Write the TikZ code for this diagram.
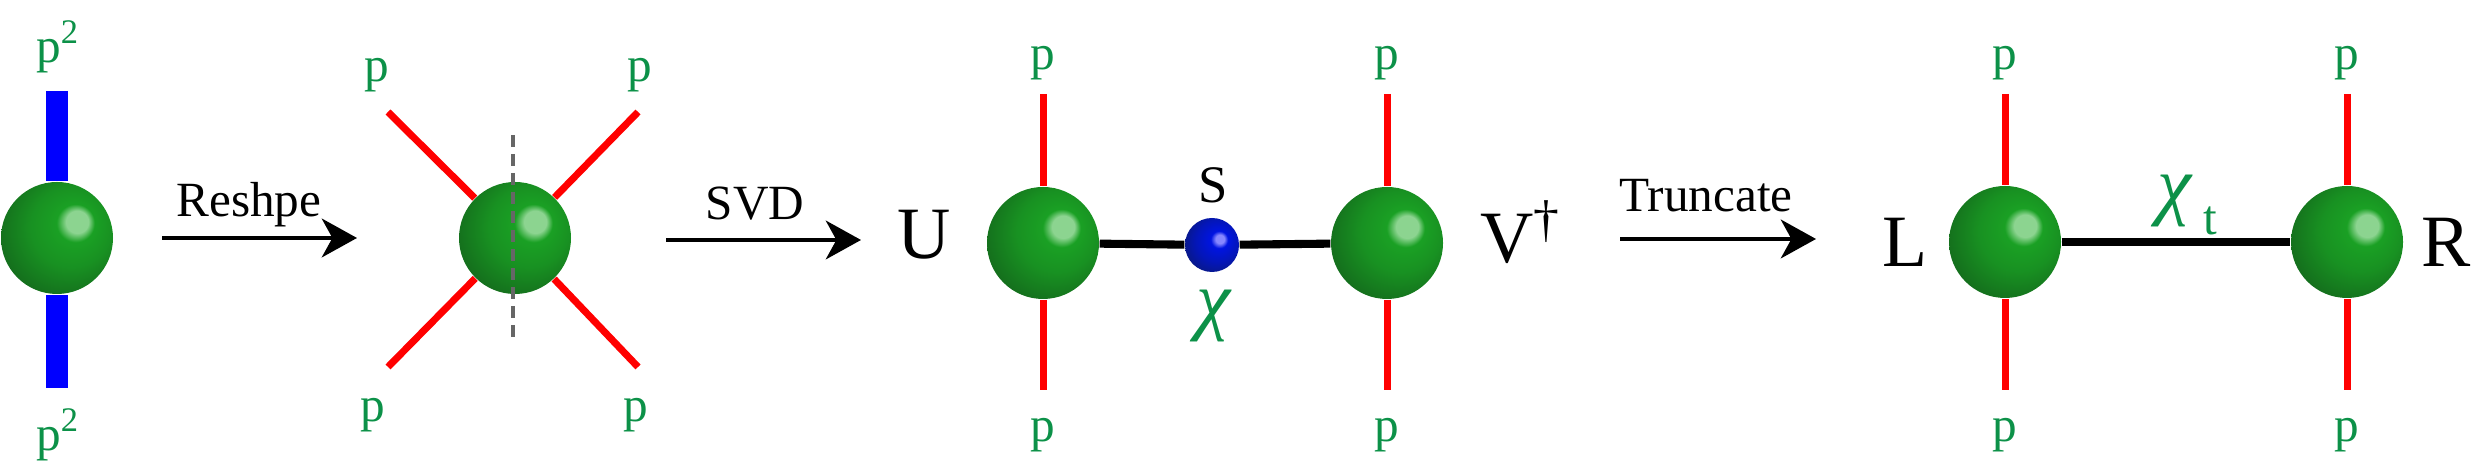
\documentclass[tikz,border=0pt]{standalone}
\usepackage{fontspec}
\setmainfont{Liberation Serif}
\usetikzlibrary{arrows.meta}

\definecolor{pgreen}{RGB}{12,145,72}
\definecolor{ballhi}{RGB}{140,212,144}
\definecolor{ballmid}{RGB}{26,160,36}
\definecolor{balldark}{RGB}{19,100,27}
\definecolor{bluehi}{RGB}{135,135,255}
\definecolor{bluemid}{RGB}{0,20,225}
\definecolor{bluedark}{RGB}{10,25,120}

\pgfdeclareradialshading{greenball}{\pgfpoint{10bp}{8bp}}{color(0bp)=(ballhi); color(5bp)=(ballhi); color(8.5bp)=(ballmid); color(18bp)=(ballmid!75!balldark); color(34bp)=(balldark); color(50bp)=(balldark)}
\pgfdeclareradialshading{blueball}{\pgfpoint{8bp}{6bp}}{color(0bp)=(bluehi); color(4bp)=(bluehi); color(8bp)=(bluemid); color(20bp)=(bluemid!60!bluedark); color(33bp)=(bluedark); color(50bp)=(bluedark)}

\tikzset{
  gball/.style={circle, minimum size=1.12cm, inner sep=0pt, shade, shading=greenball},
  sball/.style={circle, minimum size=0.54cm, inner sep=0pt, shade, shading=blueball},
  leg/.style={red, line width=2pt},
  fatleg/.style={blue, line width=6pt},
  bond/.style={black, line width=2.3pt},
  flow/.style={-{Stealth[length=10pt,width=11pt,inset=3pt]}, line width=1.3pt},
  cut/.style={black!60, dash pattern=on 3.4pt off 2pt, line width=0.9pt},
  plbl/.style={text=pgreen, font=\fontsize{14}{14}\selectfont, inner sep=0pt},
  albl/.style={font=\fontsize{14}{14}\selectfont, inner sep=0pt},
  tlbl/.style={font=\fontsize{21}{21}\selectfont, inner sep=0pt}
}

\begin{document}
\begin{tikzpicture}
  \useasboundingbox (0,0) rectangle (24.72,4.63);

  % tensor with fused legs
  \node[gball] (A) at (0.57,2.25) {};
  \coordinate (a1) at (0.57,3.72);
  \coordinate (a2) at (0.57,0.75);
  \draw[fatleg] (a1) -- (A) (a2) -- (A);
  \node[plbl] (pa1) at (0.58,4.16) {p\textsuperscript{2}};
  \node[plbl] (pa2) at (0.58,0.28) {p\textsuperscript{2}};

  \coordinate (r1) at (1.62,2.25);
  \coordinate (r2) at (3.57,2.25);
  \draw[flow] (r1) -- (r2);
  \node[albl] (tRes) at (2.49,2.58) {Reshpe};

  % four legs
  \node[gball] (B) at (5.15,2.25) {};
  \coordinate (b1) at (3.88,3.51);
  \coordinate (b2) at (6.38,3.51);
  \coordinate (b3) at (3.88,0.96);
  \coordinate (b4) at (6.38,0.96);
  \draw[leg] (b1) -- (B) (b2) -- (B) (b3) -- (B) (b4) -- (B);
  \coordinate (cutT) at (5.13,3.28);
  \coordinate (cutB) at (5.13,1.22);
  \draw[cut] (cutT) -- (cutB);
  \node[plbl] (pb1) at (3.77,3.88) {p};
  \node[plbl] (pb2) at (6.40,3.88) {p};
  \node[plbl] (pb3) at (3.73,0.48) {p};
  \node[plbl] (pb4) at (6.36,0.48) {p};

  \coordinate (s1) at (6.66,2.23);
  \coordinate (s2) at (8.61,2.23);
  \draw[flow] (s1) -- (s2);
  \node[albl] (tSvd) at (7.55,2.59) {SVD};

  % U S V
  \node[tlbl] (tU) at (9.24,2.28) {U};
  \node[gball] (U) at (10.43,2.2) {};
  \node[sball] (S) at (12.12,2.18) {};
  \node[gball] (V) at (13.87,2.2) {};
  \node[tlbl] (tV) at (15.21,2.31) {V\textsuperscript{\textdagger}};
  \coordinate (u1) at (10.43,3.69);
  \coordinate (u2) at (10.43,0.73);
  \coordinate (v1) at (13.87,3.69);
  \coordinate (v2) at (13.87,0.73);
  \draw[leg] (u1) -- (U) (u2) -- (U) (v1) -- (V) (v2) -- (V);
  \draw[bond] (U) -- (S) -- (V);
  \node[font=\fontsize{15}{15}\selectfont, inner sep=0pt] (tS) at (12.13,2.78) {S};
  \node[text=pgreen, font=\fontsize{22}{22}\selectfont\itshape, inner sep=0pt] (chi) at (12.13,1.47) {χ};
  \node[plbl] (pu1) at (10.43,4.0) {p};
  \node[plbl] (pu2) at (10.43,0.28) {p};
  \node[plbl] (pv1) at (13.87,4.0) {p};
  \node[plbl] (pv2) at (13.87,0.28) {p};

  \coordinate (t1) at (16.2,2.24);
  \coordinate (t2) at (18.16,2.24);
  \draw[flow] (t1) -- (t2);
  \node[albl] (tTrunc) at (17.06,2.67) {Truncate};

  % L R
  \node[tlbl] (tL) at (19.05,2.21) {L};
  \node[gball] (L) at (20.05,2.21) {};
  \node[gball] (R) at (23.47,2.21) {};
  \node[tlbl] (tR) at (24.46,2.21) {R};
  \coordinate (l1) at (20.05,3.69);
  \coordinate (l2) at (20.05,0.73);
  \coordinate (q1) at (23.47,3.69);
  \coordinate (q2) at (23.47,0.73);
  \draw[leg] (l1) -- (L) (l2) -- (L) (q1) -- (R) (q2) -- (R);
  \draw[bond] (L) -- (R);
  \node[text=pgreen, inner sep=0pt, anchor=base west] (chit) at (21.57,2.52)
    {\fontsize{22}{22}\selectfont\itshape χ\hspace{0.12cm}\raisebox{-0.24cm}{\fontsize{14}{14}\selectfont\upshape t}};
  \node[plbl] (pl1) at (20.05,4.0) {p};
  \node[plbl] (pl2) at (20.05,0.28) {p};
  \node[plbl] (pq1) at (23.47,4.0) {p};
  \node[plbl] (pq2) at (23.47,0.28) {p};
\end{tikzpicture}
\end{document}
